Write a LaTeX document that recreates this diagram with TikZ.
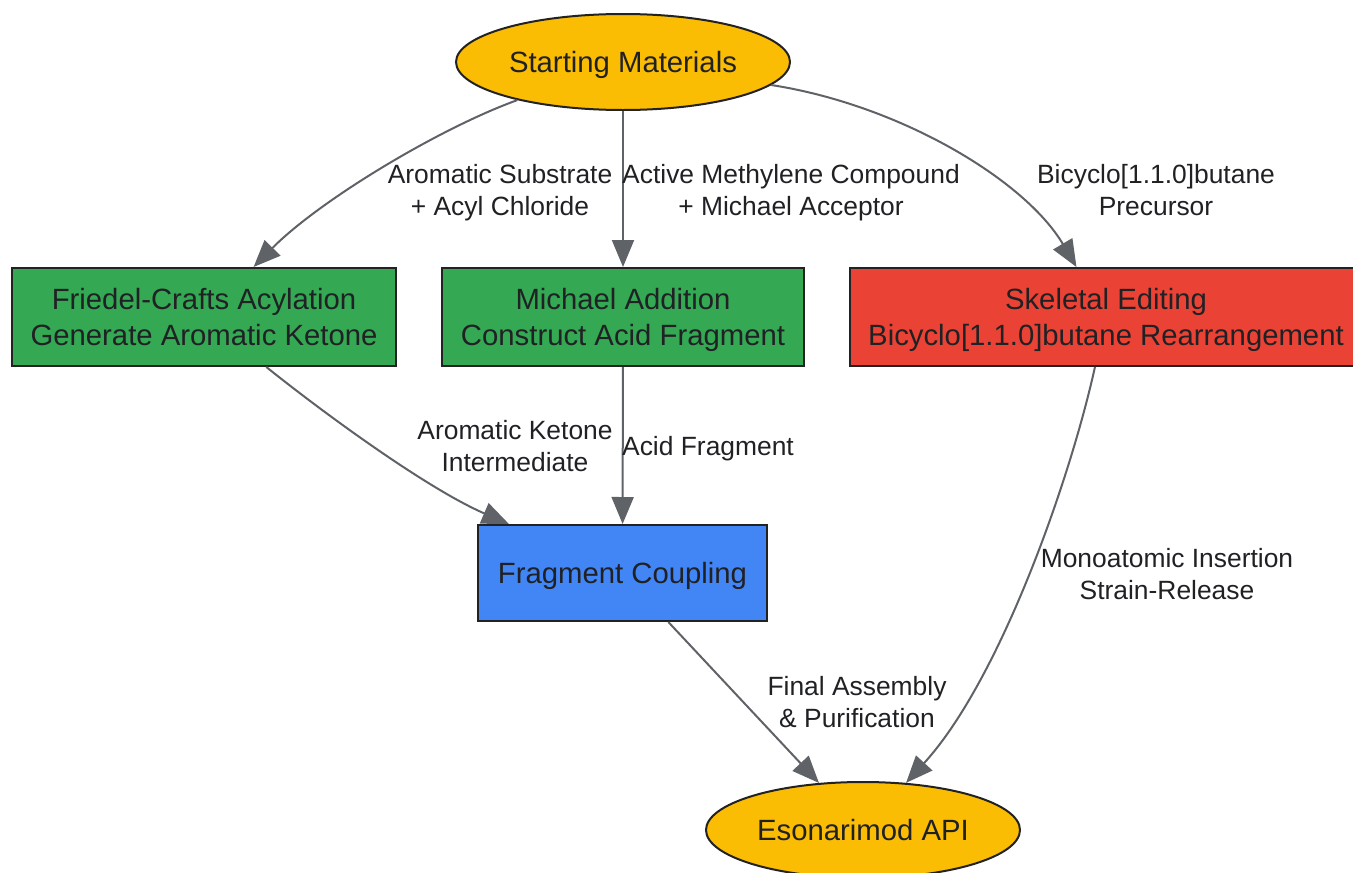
\documentclass[tikz,border=0pt]{standalone}
\usepackage{fontspec}
\setmainfont{Liberation Sans}
\usetikzlibrary{shapes.geometric,arrows.meta}
\definecolor{gyellow}{HTML}{FBBC04}
\definecolor{ggreen}{HTML}{34A853}
\definecolor{gred}{HTML}{EA4335}
\definecolor{gblue}{HTML}{4285F4}
\definecolor{edgec}{HTML}{5F6368}
\definecolor{txt}{HTML}{202124}
\definecolor{bord}{HTML}{222222}
\tikzset{
  base/.style={draw=bord, line width=2pt, text=txt, inner sep=0pt, align=center,
    font=\fontsize{29.3}{36}\selectfont, text height=21pt, text depth=0pt},
  two/.style={text height=57pt, text depth=0pt},
  oval/.style={base, ellipse, fill=gyellow, minimum width=334pt, minimum height=96pt},
  box/.style={base, rectangle, minimum height=98pt},
  conn/.style={draw=edgec, line width=2pt, -{Triangle[length=27pt,width=22pt]}},
  lbl/.style={text=txt, align=center, inner sep=0pt, font=\fontsize{26.4}{32}\selectfont,
    text height=19pt, text depth=0pt},
  lbltwo/.style={lbl, text height=51pt, text depth=0pt}
}
\begin{document}
\begin{tikzpicture}[x=1pt,y=-1pt]
\useasboundingbox (0,0) rectangle (1353,873);
\begin{scope}
\clip (0,0) rectangle (1353,873);
\node[oval] (s) at (623,62) {Starting Materials};
\node[box, two, fill=ggreen, minimum width=384pt] (f) at (204,317) {Friedel-Crafts Acylation\\Generate Aromatic Ketone};
\node[box, two, fill=ggreen, minimum width=362pt] (m) at (623,317) {Michael Addition\\Construct Acid Fragment};
\node[box, two, fill=gred, minimum width=512pt] (k) at (1106,317) {Skeletal Editing\\Bicyclo[1.1.0]butane Rearrangement};
\node[box, fill=gblue, minimum width=289pt, minimum height=96pt] (c) at (622.5,573) {Fragment Coupling};
\node[oval, minimum width=314pt] (e) at (863,830) {Esonarimod API};

\draw[conn] (s) .. controls (440,128) and (320,200) .. (f);
\draw[conn] (s) -- (m);
\draw[conn] (s) .. controls (900,105) and (1025,180) .. (k);
\draw[conn] (f) .. controls (330,418) and (430,490) .. (c);
\draw[conn] (m) -- (c);
\draw[conn] (k) .. controls (1070,480) and (1000,680) .. (e);
\draw[conn] (c) -- (e);

\node[lbltwo] (l1) at (500,190) {Aromatic Substrate\\+ Acyl Chloride};
\node[lbltwo] (l2) at (791,190) {Active Methylene Compound\\+ Michael Acceptor};
\node[lbltwo] (l3) at (1156,190) {Bicyclo[1.1.0]butane\\Precursor};
\node[lbltwo] (l4) at (515,446) {Aromatic Ketone\\Intermediate};
\node[lbl] (l5) at (708,446) {Acid Fragment};
\node[lbltwo] (l6) at (1167,574) {Monoatomic Insertion\\Strain-Release};
\node[lbltwo] (l7) at (857,702) {Final Assembly\\\& Purification};
\end{scope}
\end{tikzpicture}
\end{document}
